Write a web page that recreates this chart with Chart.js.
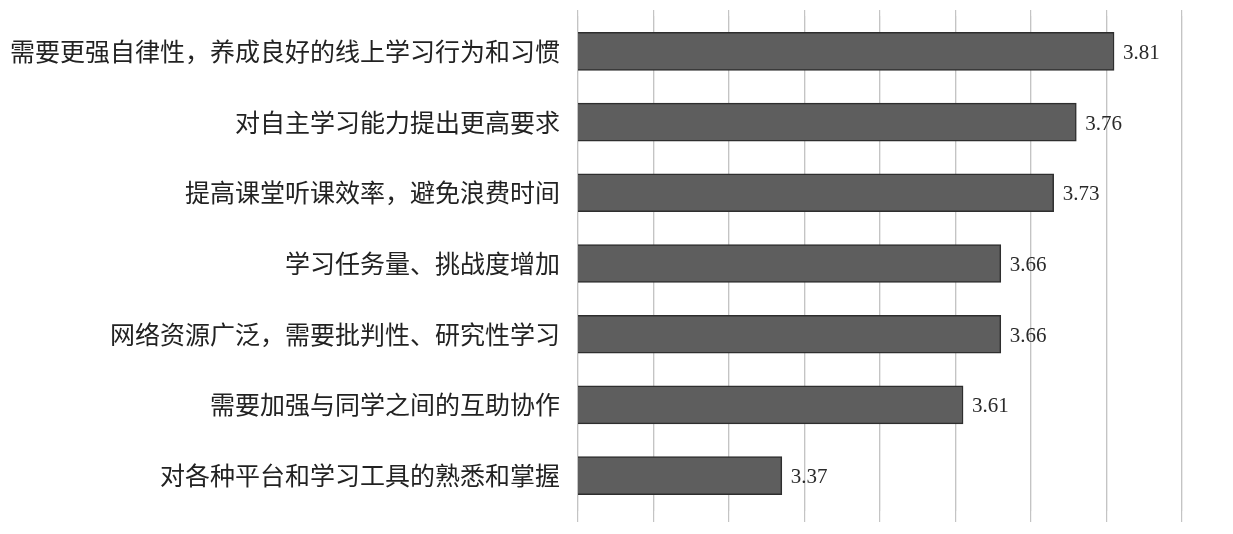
<!DOCTYPE html>
<html>
<head>
<meta charset="utf-8">
<script src="https://cdn.jsdelivr.net/npm/chart.js@4/dist/chart.umd.min.js"></script>
<style>
    html, body { margin: 0; padding: 0; background: #fff; }
    #wrap { width: 1233px; height: 534px; }
</style>
</head>
<body>
<div id="wrap"><canvas id="chart"></canvas></div>
<script>
var categories = [
    "需要更强自律性，养成良好的线上学习行为和习惯",
    "对自主学习能力提出更高要求",
    "提高课堂听课效率，避免浪费时间",
    "学习任务量、挑战度增加",
    "网络资源广泛，需要批判性、研究性学习",
    "需要加强与同学之间的互助协作",
    "对各种平台和学习工具的熟悉和掌握"
];
var scores = [3.81, 3.76, 3.73, 3.66, 3.66, 3.61, 3.37];
var axisMin = 3.1;
var axisMax = 3.9;
var axisStep = 0.1;

// value labels at the end of each bar
var valueLabels = {
    id: 'valueLabels',
    afterDatasetsDraw: function (chart) {
        var ctx = chart.ctx;
        var meta = chart.getDatasetMeta(0);
        ctx.save();
        ctx.font = '21px "Liberation Serif", serif';
        ctx.fillStyle = '#2a2a2a';
        ctx.textAlign = 'left';
        ctx.textBaseline = 'middle';
        meta.data.forEach(function (bar, i) {
            ctx.fillText(scores[i].toFixed(2), bar.x + 9, bar.y + 2);
        });
        ctx.restore();
    }
};

var gridStyle = {
    color: '#c4c4c4',
    lineWidth: 1.2,
    drawTicks: true
};

var ctx = document.getElementById('chart').getContext('2d');
var myChart = new Chart(ctx, {
    type: 'bar',
    data: {
        labels: categories,
        datasets: [{
            data: scores,
            backgroundColor: '#5e5e5e',
            borderColor: '#2e2e2e',
            borderWidth: 1.5,
            borderSkipped: false,
            barThickness: 38
        }]
    },
    options: {
        indexAxis: 'y',
        responsive: true,
        maintainAspectRatio: false,
        animation: false,
        layout: { padding: { left: 0, right: 51, top: 10, bottom: 12 } },
        plugins: {
            legend: { display: false },
            tooltip: { enabled: false }
        },
        scales: {
            x: {
                min: axisMin,
                max: axisMax,
                ticks: { display: false, stepSize: axisStep },
                grid: Object.assign({ tickLength: 11 }, gridStyle),
                border: { display: false },
                afterFit: function (scale) { scale.height = 11; }
            },
            x2: {
                position: 'top',
                min: axisMin,
                max: axisMax,
                ticks: { display: false, stepSize: axisStep },
                grid: Object.assign({ tickLength: 6 }, gridStyle),
                border: { display: false },
                afterFit: function (scale) { scale.height = 6; }
            },
            y: {
                ticks: {
                    color: '#222',
                    padding: 18,
                    font: { family: '"Noto Sans CJK SC", sans-serif', size: 25 }
                },
                grid: { display: false, drawTicks: false },
                border: { display: false },
                afterFit: function (scale) {
                    scale.width = 578;
                    scale.paddingTop = 0;
                    scale.paddingBottom = 0;
                }
            }
        }
    },
    plugins: [valueLabels]
});
</script>
</body>
</html>
